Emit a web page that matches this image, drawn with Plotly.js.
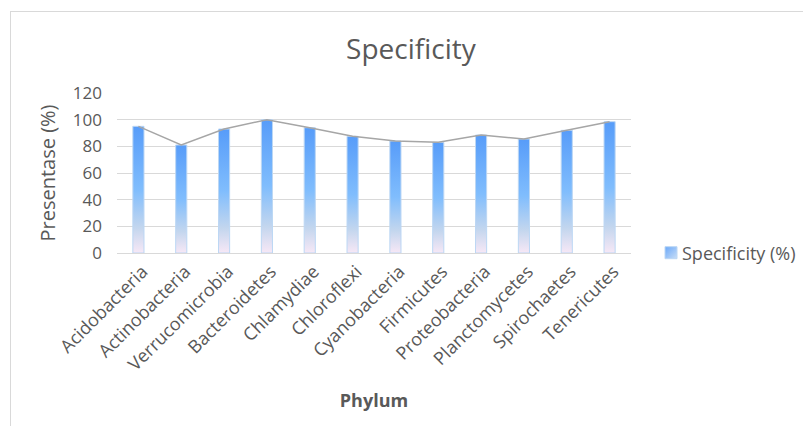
<!DOCTYPE html>
<html><head><meta charset="utf-8">
<script src="https://cdn.plot.ly/plotly-3.0.1.min.js"></script>
<style>
html,body{margin:0;padding:0;background:#fff;width:803px;height:426px;overflow:hidden}
#wrap{position:absolute;left:10px;top:11px;width:793px;height:415px;border-left:1px solid #d9d9d9;border-top:1px solid #d9d9d9}
#chart{width:792px;height:414px}
</style></head><body>
<div id="wrap"><div id="chart"></div></div>
<script>
const phyla = ["Acidobacteria","Actinobacteria","Verrucomicrobia","Bacteroidetes","Chlamydiae","Chloroflexi","Cyanobacteria","Firmicutes","Proteobacteria","Planctomycetes","Spirochaetes","Tenericutes"];
const specificity = [95, 81, 93, 100, 94, 87.5, 84, 83, 88.5, 85.5, 92, 98.5];
const seriesName = "Specificity (%)";

const fontFam = "'Open Sans', 'Noto Sans', sans-serif";
const grey = "#595959";

const traces = [
  {type:"bar", x:phyla, y:specificity, name:seriesName, width:0.26,
   marker:{color:"#7fb8fb", line:{color:"#bcd7f4", width:1}}, showlegend:true},
  {type:"scatter", mode:"lines", x:phyla, y:specificity, showlegend:false,
   line:{color:"#a6a6a6", width:1.5}, hoverinfo:"skip"}
];
const layout = {
  width:792, height:414,
  margin:{l:106, r:172, t:81, b:173},
  paper_bgcolor:"#fff", plot_bgcolor:"#fff",
  font:{family:fontFam, color:grey},
  title:{text:"Specificity", font:{size:28, color:grey, family:fontFam}, x:0.505, xanchor:"center", y:0.911, yanchor:"middle"},
  xaxis:{title:{text:"<b>Phylum</b>", font:{size:18, color:grey}, standoff:20},
    tickangle:-45, tickfont:{size:18, color:grey}, ticklabelshift:4, showline:true, linecolor:"#d9d9d9", ticks:"", showgrid:false, fixedrange:true},
  yaxis:{title:{text:"Presentase (%)", font:{size:20, color:grey}, standoff:11},
    range:[0,120], dtick:20, tickfont:{size:17, color:grey}, ticklabelstandoff:14, gridcolor:"#d9d9d9", gridwidth:1, zeroline:false, showline:false, ticks:"", fixedrange:true},
  legend:{x:1.0, xanchor:"left", y:0, yanchor:"middle", font:{size:18, color:grey}, itemwidth:30},
  bargap:0.74
};
Plotly.newPlot("chart", traces, layout, {displayModeBar:false, staticPlot:true}).then(gd => {
  const svg = gd.querySelector("svg.main-svg");
  const ns = "http://www.w3.org/2000/svg";
  let defs = svg.querySelector("defs");
  const lg = document.createElementNS(ns, "linearGradient");
  lg.setAttribute("id","bargrad"); lg.setAttribute("x1","0"); lg.setAttribute("y1","0"); lg.setAttribute("x2","0"); lg.setAttribute("y2","1");
  [["0","#579cf9"],["0.5","#80bdfd"],["0.8","#c3d6ee"],["1","#f7e8f6"]].forEach(([o,c])=>{
    const s=document.createElementNS(ns,"stop"); s.setAttribute("offset",o); s.setAttribute("stop-color",c); lg.appendChild(s);
  });
  defs.appendChild(lg);
  const lg2 = document.createElementNS(ns, "linearGradient");
  lg2.setAttribute("id","leggrad"); lg2.setAttribute("x1","0"); lg2.setAttribute("y1","0"); lg2.setAttribute("x2","1"); lg2.setAttribute("y2","1");
  [["0","#6aa8f9"],["1","#c9def6"]].forEach(([o,c])=>{
    const s=document.createElementNS(ns,"stop"); s.setAttribute("offset",o); s.setAttribute("stop-color",c); lg2.appendChild(s);
  });
  defs.appendChild(lg2);
  gd.querySelectorAll(".barlayer .point path").forEach(p => { p.style.fill = "url(#bargrad)"; });
  gd.querySelectorAll(".legend .legendpoints").forEach(g => {
    g.setAttribute("transform", "translate(9,0)");
    g.querySelectorAll("path").forEach(p => { p.style.fill = "url(#leggrad)"; });
  });
  const leg = gd.querySelector("g.legend");
  if (leg) {
    const t = leg.getAttribute("transform") || "";
    const m = t.match(/translate\(\s*([-\d.]+)[ ,]+([-\d.]+)\s*\)/);
    if (m) leg.setAttribute("transform", "translate(" + (parseFloat(m[1]) + 11) + "," + m[2] + ")");
  }
});
</script>
</body></html>
